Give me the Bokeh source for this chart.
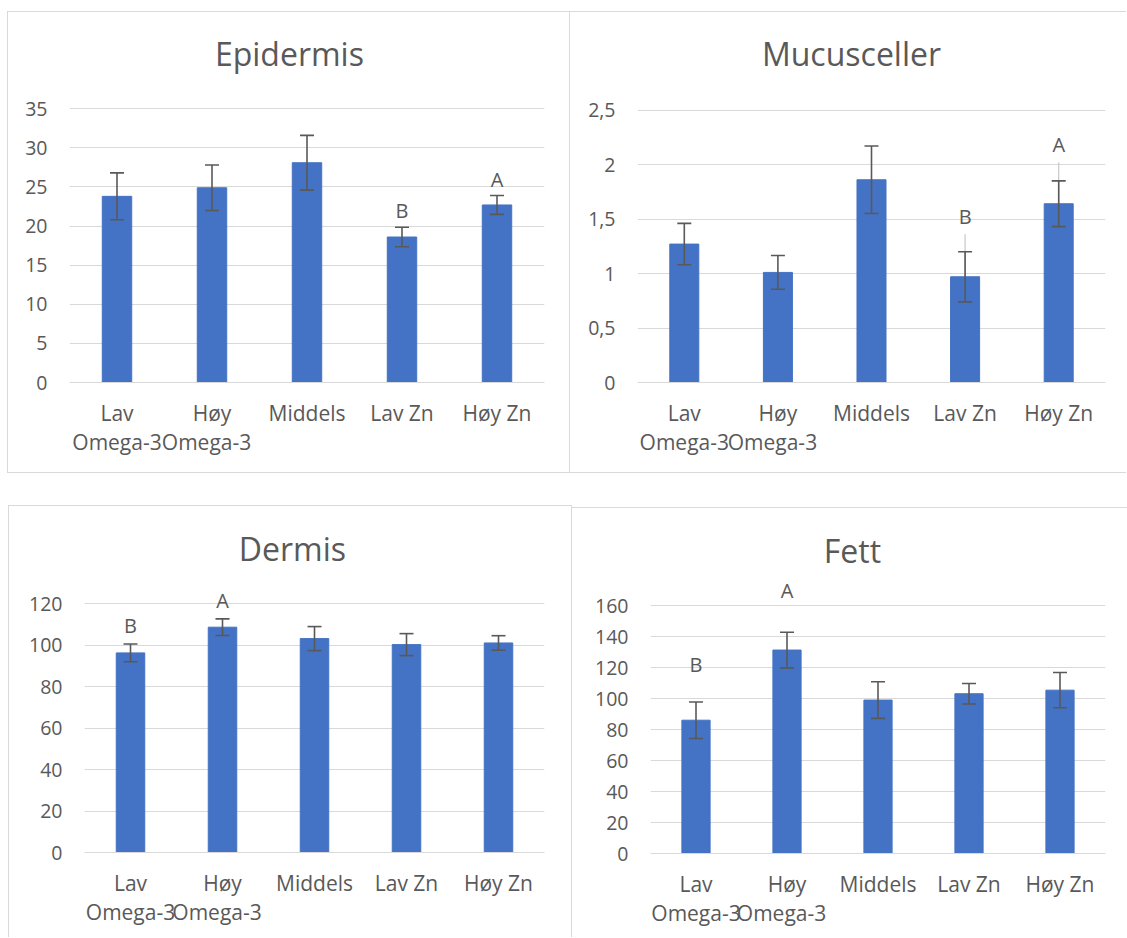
from bokeh.plotting import figure
from bokeh.models import FactorRange, Range1d, FixedTicker, Spacer, CategoricalAxis
from bokeh.layouts import row, column
from bokeh.embed import file_html
from bokeh.resources import INLINE
from bokeh.core.properties import value

# ---------------- data ----------------
# first and second line of the category labels (Lav Omega-3, Høy Omega-3, ...)
category_line1 = ["Lav", "Høy", "Middels", "Lav Zn", "Høy Zn"]
category_line2 = ["Omega-3", " Omega-3 ", " ", "  ", "   "]

epidermis_mean = [23.8, 24.9, 28.1, 18.6, 22.7]
epidermis_err = [3.0, 2.9, 3.5, 1.25, 1.2]
epidermis_ticks = [0, 5, 10, 15, 20, 25, 30, 35]
epidermis_letter_cats = ["Lav Zn", "Høy Zn"]
epidermis_letters = ["B", "A"]
epidermis_letter_y = [22.0, 26.0]

mucus_mean = [1.27, 1.01, 1.86, 0.97, 1.64]
mucus_err = [0.19, 0.155, 0.31, 0.23, 0.21]
mucus_ticks = [0, 0.5, 1, 1.5, 2, 2.5]
mucus_tick_labels = ["0", "0,5", "1", "1,5", "2", "2,5"]
mucus_faint_cats = ["Lav Zn", "Høy Zn"]
mucus_faint_mean = [0.97, 1.64]
mucus_faint_err = [0.39, 0.38]
mucus_letter_cats = ["Lav Zn", "Høy Zn"]
mucus_letters = ["B", "A"]
mucus_letter_y = [1.52, 2.18]

dermis_mean = [96.3, 108.7, 103.2, 100.3, 101.1]
dermis_err = [4.3, 4.0, 5.8, 5.3, 3.5]
dermis_ticks = [0, 20, 40, 60, 80, 100, 120]
dermis_letter_cats = ["Lav", "Høy"]
dermis_letters = ["B", "A"]
dermis_letter_y = [109.5, 121.4]

fett_mean = [86.1, 131.4, 99.1, 103.2, 105.5]
fett_err = [11.8, 11.5, 11.8, 6.6, 11.4]
fett_ticks = [0, 20, 40, 60, 80, 100, 120, 140, 160]
fett_letter_cats = ["Lav", "Høy"]
fett_letters = ["B", "A"]
fett_letter_y = [122.0, 170.0]

# ---------------- style ----------------
BAR = "#4472C4"
TXT = "#595959"
GRID = "#d9d9d9"
ERR = "#595959"
FONT = "Open Sans"
BORDER = "1px solid #d9d9d9"


def make_panel(title, mean, err, ticks, letter_cats, letters, letter_y, geo,
               tick_labels=None, faint=None):
    # geo: page-pixel layout of the panel
    x0, y0, w, h = geo["box"]
    borders = geo["borders"]
    fl, fr, zero_px = geo["frame"]
    top_tick_px = geo["top_tick_px"]
    tcx, tcy = geo["title"]

    c_left = x0 + (1 if "left" in borders else 0)
    c_top = y0 + (1 if "top" in borders else 0)
    c_right = x0 + w - (1 if "right" in borders else 0)
    c_bottom = y0 + h - (1 if "bottom" in borders else 0)
    ppu = (zero_px - top_tick_px) / ticks[-1]
    y_end = (zero_px - c_top) / ppu
    cat_w = (fr - fl) / len(category_line1)

    styles = {"box-sizing": "border-box"}
    for side in borders:
        styles["border-" + side] = BORDER
    p = figure(x_range=FactorRange(*category_line1), y_range=Range1d(0, y_end),
               width=w, height=h, output_backend="svg",
               toolbar_location=None, title=None,
               min_border_left=fl - c_left, min_border_right=c_right - fr,
               min_border_top=0, min_border_bottom=c_bottom - zero_px,
               styles=styles)
    p.outline_line_color = None
    p.background_fill_color = "white"
    p.border_fill_color = "white"

    # x axis: first line of category labels
    ax = p.xaxis[0]
    ax.axis_line_color = GRID
    ax.axis_line_width = 1
    ax.major_tick_line_color = None
    ax.minor_tick_line_color = None
    ax.major_label_text_font = FONT
    ax.major_label_text_font_size = "21px"
    ax.major_label_text_color = TXT
    ax.major_label_standoff = 10

    # second line of category labels
    p.extra_x_ranges = {"line2": FactorRange(*category_line2)}
    ax2 = CategoricalAxis(x_range_name="line2",
                          axis_line_color=None, major_tick_line_color=None,
                          minor_tick_line_color=None,
                          major_label_text_font=FONT,
                          major_label_text_font_size="21px",
                          major_label_text_color=TXT,
                          major_label_standoff=-8)
    p.add_layout(ax2, "below")

    # y axis
    p.yaxis.ticker = FixedTicker(ticks=ticks)
    if tick_labels is not None:
        p.yaxis.major_label_overrides = {t: l for t, l in zip(ticks, tick_labels)}
    p.yaxis.axis_line_color = None
    p.yaxis.major_tick_line_color = None
    p.yaxis.minor_tick_line_color = None
    p.yaxis.major_label_text_font = FONT
    p.yaxis.major_label_text_font_size = "19.5px"
    p.yaxis.major_label_text_color = TXT
    p.yaxis.major_label_standoff = 16

    p.xgrid.grid_line_color = None
    p.ygrid.grid_line_color = GRID
    p.ygrid.grid_line_width = 1

    # chart title, placed through the plot's own scales
    p.text(x=[(tcx - fl) / cat_w], y=[(zero_px - tcy) / ppu], text=[title],
           text_font=value(FONT), text_font_size="32px", text_color=TXT,
           text_align="center", text_baseline="middle")

    if faint is not None:
        fc, fm, fe = faint
        p.segment(x0=fc, x1=fc, y0=[m - e for m, e in zip(fm, fe)],
                  y1=[m + e for m, e in zip(fm, fe)],
                  line_color="#c8c8c8", line_width=1.2)

    p.vbar(x=category_line1, top=mean, width=0.31, fill_color=BAR, line_color=BAR)

    lower = [m - e for m, e in zip(mean, err)]
    upper = [m + e for m, e in zip(mean, err)]
    p.segment(x0=category_line1, x1=category_line1, y0=lower, y1=upper,
              line_color=ERR, line_width=1.6)
    p.scatter(x=category_line1 + category_line1, y=lower + upper, marker="dash",
              size=14, line_color=ERR, line_width=1.6)

    p.text(x=letter_cats, y=letter_y, text=letters,
           text_font=value(FONT), text_font_size="20px", text_color=TXT,
           text_align="center", text_baseline="middle")
    return p


geo1 = dict(box=(7, 11, 563, 462), borders=["top", "left", "bottom", "right"],
            frame=(69, 542, 381), top_tick_px=108, title=(288, 53))
geo2 = dict(box=(570, 11, 556, 462), borders=["top", "bottom"],
            frame=(637, 1105, 380), top_tick_px=109, title=(851, 53))
geo3 = dict(box=(8, 505, 564, 432), borders=["top", "left", "right"],
            frame=(84, 542, 851), top_tick_px=603, title=(291, 548))
geo4 = dict(box=(572, 507, 555, 430), borders=["top"],
            frame=(650, 1105, 852), top_tick_px=605, title=(852, 550))

p1 = make_panel("Epidermis", epidermis_mean, epidermis_err, epidermis_ticks,
                epidermis_letter_cats, epidermis_letters, epidermis_letter_y, geo1)
p2 = make_panel("Mucusceller", mucus_mean, mucus_err, mucus_ticks,
                mucus_letter_cats, mucus_letters, mucus_letter_y, geo2,
                tick_labels=mucus_tick_labels,
                faint=(mucus_faint_cats, mucus_faint_mean, mucus_faint_err))
p3 = make_panel("Dermis", dermis_mean, dermis_err, dermis_ticks,
                dermis_letter_cats, dermis_letters, dermis_letter_y, geo3)
p4 = make_panel("Fett", fett_mean, fett_err, fett_ticks,
                fett_letter_cats, fett_letters, fett_letter_y, geo4)

layout = column(Spacer(height=11),
                row(Spacer(width=7), p1, p2),
                Spacer(height=32),
                row(Spacer(width=8), p3, column(Spacer(height=2), p4)))

with open("out.html", "w") as f:
    f.write(file_html(layout, INLINE))
